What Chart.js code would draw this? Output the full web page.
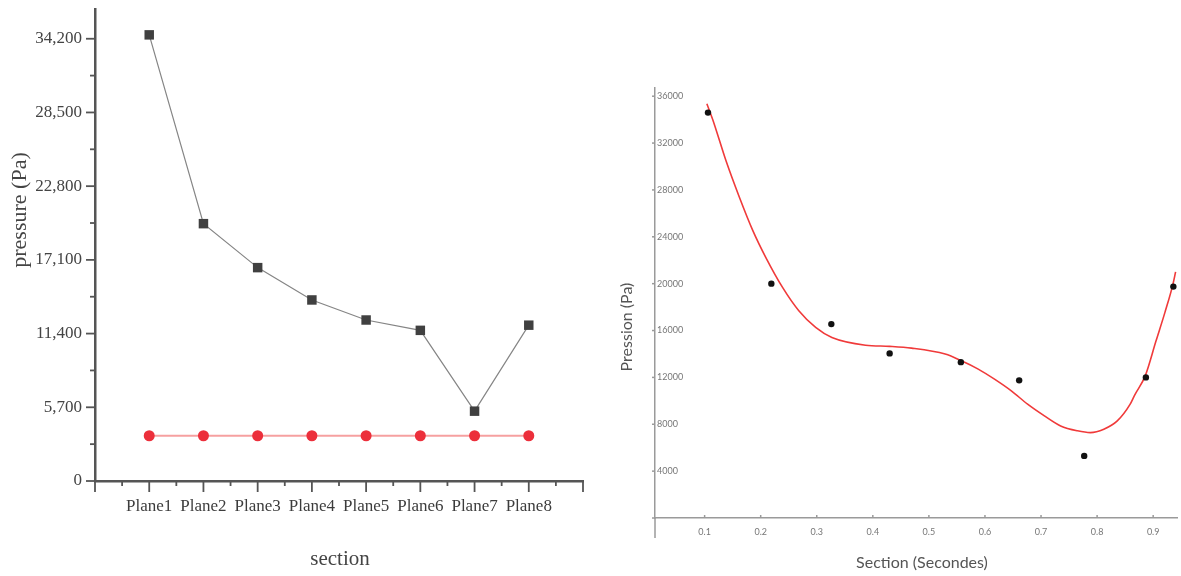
<!DOCTYPE html>
<html>
<head>
<meta charset="utf-8">
<script src="https://cdn.jsdelivr.net/npm/chart.js@4.4.1/dist/chart.umd.min.js"></script>
<style>
  html, body { margin: 0; padding: 0; background: #fff; }
  body { width: 1181px; height: 576px; position: relative; overflow: hidden; }
  .pane { position: absolute; top: 0; width: 600px; height: 576px; }
  #paneLeft { left: 0; }
  #paneRight { left: 581px; }
</style>
</head>
<body>
<div class="pane" id="paneLeft"><canvas id="planeChart" width="600" height="576"></canvas></div>
<div class="pane" id="paneRight"><canvas id="fitChart" width="600" height="576"></canvas></div>
<script>
// ---- Pressure per section plane ----
const planes = ['Plane1', 'Plane2', 'Plane3', 'Plane4', 'Plane5', 'Plane6', 'Plane7', 'Plane8'];
const planePositions = [1, 2, 3, 4, 5, 6, 7, 8];
const pressureMeasured = [34500, 19900, 16500, 14000, 12450, 11650, 5400, 12050];
const pressureReference = [3500, 3500, 3500, 3500, 3500, 3500, 3500, 3500];
const pressureTicks = [0, 5700, 11400, 17100, 22800, 28500, 34200];

// ---- Pressure against section time, with fitted curve ----
const sectionTime = [0.106, 0.219, 0.326, 0.430, 0.557, 0.661, 0.777, 0.887, 0.936];
const pressionMeasured = [34600, 20000, 16550, 14050, 13300, 11750, 5300, 12000, 19750];
const fitTime = [0.104, 0.115, 0.138, 0.162, 0.186, 0.209, 0.239, 0.268, 0.298, 0.327, 0.387,
                 0.430, 0.469, 0.529, 0.558, 0.588, 0.617, 0.647, 0.676, 0.706, 0.735, 0.765,
                 0.788, 0.812, 0.836, 0.859, 0.867, 0.886, 0.905, 0.921, 0.935, 0.940];
const fitPression = [35360, 33930, 30510, 27380, 24530, 22250, 19680, 17690, 16270, 15410, 14750,
                     14650, 14500, 13990, 13420, 12710, 11850, 10850, 9720, 8720, 7860, 7440,
                     7290, 7580, 8290, 9720, 10490, 12150, 15100, 17550, 19900, 21000];
const pressionTicks = [4000, 8000, 12000, 16000, 20000, 24000, 28000, 32000, 36000];
const sectionTicks = [0.1, 0.2, 0.3, 0.4, 0.5, 0.6, 0.7, 0.8, 0.9];

const SERIF = '"Liberation Serif", "Times New Roman", serif';
const SANS = 'Lato, "Open Sans", sans-serif';

function seg(ctx, x1, y1, x2, y2) {
  ctx.beginPath(); ctx.moveTo(x1, y1); ctx.lineTo(x2, y2); ctx.stroke();
}

// Axis titles placed freely on the canvas
const axisTitles = {
  id: 'axisTitles',
  afterDraw(chart, args, opts) {
    const ctx = chart.ctx;
    (opts.items || []).forEach(t => {
      ctx.save();
      ctx.font = t.font;
      ctx.fillStyle = t.color;
      ctx.textAlign = 'center';
      ctx.textBaseline = 'middle';
      ctx.translate(t.x, t.y);
      if (t.rotate) ctx.rotate(t.rotate);
      ctx.fillText(t.text, 0, 0);
      ctx.restore();
    });
  }
};

// Major / minor tick marks on the outside of the plane chart axes
const planeTicks = {
  id: 'planeTicks',
  afterDraw(chart) {
    const { ctx, scales: { x, y } } = chart;
    ctx.save();
    ctx.strokeStyle = '#555';
    ctx.lineWidth = 1.8;
    pressureTicks.forEach((v, i) => {
      const py = y.getPixelForValue(v);
      seg(ctx, x.left - 9, py, x.left, py);
      if (i < pressureTicks.length - 1) {
        const pm = y.getPixelForValue((v + pressureTicks[i + 1]) / 2);
        seg(ctx, x.left - 5, pm, x.left, pm);
      }
    });
    for (let v = x.min; v <= x.max + 1e-9; v += 0.5) {
      const px = x.getPixelForValue(v);
      const major = Math.abs(v - Math.round(v)) < 1e-6;
      seg(ctx, px, y.bottom, px, y.bottom + (major ? 11 : 5));
    }
    ctx.restore();
  }
};

// Small inner ticks and crossing axis stubs on the fit chart
const fitTicks = {
  id: 'fitTicks',
  afterDraw(chart) {
    const { ctx, scales: { x, y } } = chart;
    ctx.save();
    ctx.strokeStyle = '#9a9a9a';
    ctx.lineWidth = 1.5;
    seg(ctx, x.left, y.bottom, x.left, y.bottom + 20);
    seg(ctx, x.left - 3, y.bottom, x.left, y.bottom);
    pressionTicks.forEach(v => {
      const py = y.getPixelForValue(v);
      seg(ctx, x.left - 3, py, x.left, py);
    });
    sectionTicks.forEach(v => {
      const px = x.getPixelForValue(v);
      seg(ctx, px, y.bottom, px, y.bottom - 3);
    });
    ctx.restore();
  }
};

function flatPadding(s) {
  s.paddingTop = 0; s.paddingBottom = 0; s.paddingLeft = 0; s.paddingRight = 0;
}

new Chart(document.getElementById('planeChart'), {
  type: 'line',
  data: {
    datasets: [
      {
        label: 'pressure',
        data: planePositions.map((p, i) => ({ x: p, y: pressureMeasured[i] })),
        borderColor: '#858585',
        borderWidth: 1.2,
        pointStyle: 'rect',
        pointRadius: 6.7,
        pointBackgroundColor: '#404040',
        pointBorderColor: '#404040',
        pointBorderWidth: 0,
        tension: 0
      },
      {
        label: 'reference',
        data: planePositions.map((p, i) => ({ x: p, y: pressureReference[i] })),
        borderColor: '#f6a0a0',
        borderWidth: 2,
        pointStyle: 'circle',
        pointRadius: 5.5,
        pointBackgroundColor: '#ec2f3b',
        pointBorderColor: '#ec2f3b',
        pointBorderWidth: 0,
        tension: 0
      }
    ]
  },
  options: {
    responsive: false,
    devicePixelRatio: 1,
    animation: false,
    events: [],
    clip: false,
    layout: { padding: { left: 0, top: 9, right: 17, bottom: 0 } },
    plugins: {
      legend: { display: false },
      tooltip: { enabled: false },
      axisTitles: {
        items: [
          { text: 'pressure (Pa)', x: 20, y: 210, rotate: -Math.PI / 2, font: '22px ' + SERIF, color: '#444' },
          { text: 'section', x: 340, y: 559, font: '21px ' + SERIF, color: '#444' }
        ]
      }
    },
    scales: {
      x: {
        type: 'linear',
        min: 0,
        max: 9,
        afterBuildTicks: s => { s.ticks = planePositions.map(v => ({ value: v })); },
        afterFit: s => { s.height = 95; flatPadding(s); },
        ticks: {
          autoSkip: false,
          maxRotation: 0,
          padding: 5,
          color: '#3c3c3c',
          font: { family: SERIF, size: 17 },
          callback: v => planes[planePositions.indexOf(v)] ?? ''
        },
        grid: { drawOnChartArea: false, tickLength: 10, tickColor: 'rgba(0,0,0,0)' },
        border: { color: '#555', width: 2.5 }
      },
      y: {
        type: 'linear',
        min: 0,
        max: 36500,
        afterBuildTicks: s => { s.ticks = pressureTicks.map(v => ({ value: v })); },
        afterFit: s => { s.width = 95; flatPadding(s); },
        ticks: {
          padding: 3,
          color: '#444',
          font: { family: SERIF, size: 17 },
          callback: v => v.toLocaleString('en-US')
        },
        grid: { drawOnChartArea: false, tickLength: 10, tickColor: 'rgba(0,0,0,0)' },
        border: { color: '#555', width: 2.5 }
      }
    }
  },
  plugins: [planeTicks, axisTitles]
});

new Chart(document.getElementById('fitChart'), {
  type: 'line',
  data: {
    datasets: [
      {
        label: 'measured',
        data: sectionTime.map((t, i) => ({ x: t, y: pressionMeasured[i] })),
        showLine: false,
        pointStyle: 'circle',
        pointRadius: 3.2,
        pointBackgroundColor: '#111',
        pointBorderColor: '#111',
        pointBorderWidth: 0
      },
      {
        label: 'fit',
        data: fitTime.map((t, i) => ({ x: t, y: fitPression[i] })),
        borderColor: '#f03a3a',
        borderWidth: 1.6,
        pointRadius: 0,
        cubicInterpolationMode: 'monotone'
      }
    ]
  },
  options: {
    responsive: false,
    devicePixelRatio: 1,
    animation: false,
    events: [],
    clip: false,
    layout: { padding: { left: 0, top: 88, right: 0, bottom: 0 } },
    plugins: {
      legend: { display: false },
      tooltip: { enabled: false },
      axisTitles: {
        items: [
          { text: 'Pression (Pa)', x: 46, y: 327, rotate: -Math.PI / 2, font: '16px ' + SANS, color: '#555' },
          { text: 'Section (Secondes)', x: 341, y: 563, font: '16px ' + SANS, color: '#555' }
        ]
      }
    },
    scales: {
      x: {
        type: 'linear',
        min: 0.0115,
        max: 0.9425,
        afterBuildTicks: s => { s.ticks = sectionTicks.map(v => ({ value: v })); },
        afterFit: s => { s.height = 58; flatPadding(s); },
        ticks: {
          autoSkip: false,
          maxRotation: 0,
          padding: 6,
          color: '#777',
          font: { family: SANS, size: 9 },
          callback: v => v.toFixed(1)
        },
        grid: { drawOnChartArea: false, tickLength: 3, tickColor: 'rgba(0,0,0,0)' },
        border: { color: '#9a9a9a', width: 1.5 }
      },
      y: {
        type: 'linear',
        min: 0,
        max: 36700,
        afterBuildTicks: s => { s.ticks = pressionTicks.map(v => ({ value: v })); },
        afterFit: s => { s.width = 74; flatPadding(s); },
        ticks: {
          mirror: true,
          padding: 2,
          color: '#777',
          font: { family: SANS, size: 9 },
          callback: v => String(v)
        },
        grid: { drawOnChartArea: false, drawTicks: false },
        border: { color: '#9a9a9a', width: 1.5 }
      }
    }
  },
  plugins: [fitTicks, axisTitles]
});
</script>
</body>
</html>
